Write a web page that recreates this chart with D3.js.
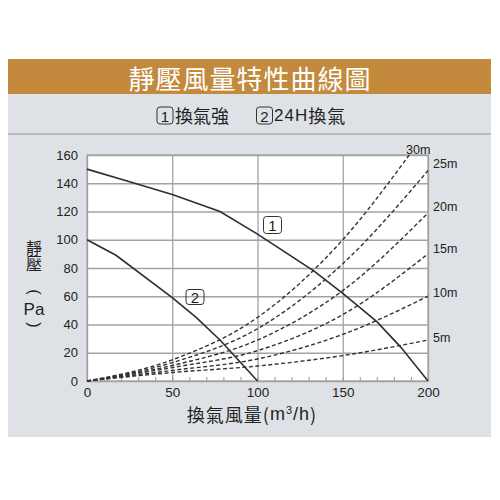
<!DOCTYPE html>
<html>
<head>
<meta charset="utf-8">
<script src="https://cdn.jsdelivr.net/npm/d3@7"></script>
<style>
  body { margin: 0; background: #fff; }
  svg text { font-family: "Liberation Sans", Arial, sans-serif; fill: #222; }
  .cjk { font-family: "Noto Sans CJK TC", "Noto Sans CJK SC", sans-serif; }
</style>
</head>
<body>
<svg id="chart" width="500" height="500"></svg>
<script>
// data
const xTicks = [0, 50, 100, 150, 200];
const yTicks = [0, 20, 40, 60, 80, 100, 120, 140, 160];
const minorX = d3.range(0, 201, 10);

// fan curves (static pressure vs airflow)
const fan1 = [[0, 150], [25, 141], [50, 132], [78, 120], [100, 104], [133, 78], [150, 62], [170, 42], [184, 24], [200, 0]];
const fan2 = [[0, 100], [17, 89], [50, 59], [64, 45], [78, 29], [100, 0]];

// duct resistance curves
const ductNames = ['5m', '10m', '15m', '20m', '25m', '30m'];
const duct5 = [[0, 0], [50, 6], [100, 10.6], [150, 18], [200, 29]];
const duct10 = [[0, 0], [50, 7.5], [100, 15.6], [150, 33], [200, 60]];
const duct15 = [[0, 0], [50, 9.5], [100, 21.5], [150, 47], [200, 90]];
const duct20 = [[0, 0], [50, 11], [100, 29], [150, 64], [200, 119]];
const duct25 = [[0, 0], [50, 13], [100, 37], [150, 83], [200, 149]];
const duct30 = [[0, 0], [50, 15], [100, 45], [150, 100], [189, 160]];
const ducts = [duct5, duct10, duct15, duct20, duct25, duct30];

const svg = d3.select('#chart');

// panel background
svg.append('rect').attr('x', 8).attr('y', 59).attr('width', 483).attr('height', 378).attr('fill', '#dee2e6');
svg.append('rect').attr('x', 8).attr('y', 59).attr('width', 483).attr('height', 35).attr('fill', '#c38a3d');
svg.append('line').attr('x1', 8).attr('x2', 491).attr('y1', 134).attr('y2', 134)
  .attr('stroke', '#8f959b').attr('stroke-width', 1);

svg.append('text').attr('class', 'cjk')
  .attr('x', 250).attr('y', 77).attr('text-anchor', 'middle').attr('dominant-baseline', 'central')
  .style('fill', '#fff').style('font-size', '26px').style('letter-spacing', '1px')
  .text('靜壓風量特性曲線圖');

function boxNum(g, cx, cy, w, h, label, size) {
  g.append('rect').attr('x', cx - w / 2).attr('y', cy - h / 2).attr('width', w).attr('height', h)
    .attr('rx', 3).attr('fill', 'none').attr('stroke', '#333').attr('stroke-width', 1);
  g.append('text').attr('x', cx).attr('y', cy + 0.5).attr('text-anchor', 'middle')
    .attr('dominant-baseline', 'central').style('font-size', size + 'px').text(label);
}

// legend line
const leg = svg.append('g');
boxNum(leg, 165, 115.5, 16, 17, '1', 15);
leg.append('text').attr('class', 'cjk').attr('x', 175).attr('y', 115).attr('dominant-baseline', 'central')
  .style('font-size', '18px').text('換氣強');
boxNum(leg, 264.5, 115.5, 16, 17, '2', 15);
leg.append('text').attr('x', 274).attr('y', 115).attr('dominant-baseline', 'central')
  .style('font-size', '17px').style('letter-spacing', '1px')
  .html('24H<tspan style="font-family:\'Noto Sans CJK TC\';font-size:18px">換氣</tspan>');

// plot
const x = d3.scaleLinear().domain([0, 200]).range([87, 428]);
const y = d3.scaleLinear().domain([0, 160]).range([381, 155]);

svg.append('rect').attr('x', x(0)).attr('y', y(160)).attr('width', x(200) - x(0)).attr('height', y(0) - y(160))
  .attr('fill', '#fff');

svg.append('g').attr('transform', `translate(0,${y(0)})`)
  .call(d3.axisBottom(x).tickValues(xTicks).tickSize(-(y(0) - y(160))).tickFormat(''))
  .call(g => g.select('.domain').remove())
  .call(g => g.selectAll('line').attr('stroke', '#a3a3a3').attr('stroke-width', 1.3));

svg.append('g').attr('transform', `translate(${x(0)},0)`)
  .call(d3.axisLeft(y).tickValues(yTicks).tickSize(-(x(200) - x(0))).tickFormat(''))
  .call(g => g.select('.domain').remove())
  .call(g => g.selectAll('line').attr('stroke', '#a3a3a3').attr('stroke-width', 1.3));

svg.append('g').attr('transform', `translate(0,${y(0)})`)
  .call(d3.axisBottom(x).tickValues(minorX).tickSize(-4).tickFormat(''))
  .call(g => g.select('.domain').remove())
  .call(g => g.selectAll('line').attr('stroke', '#999'));

svg.append('rect').attr('x', x(0)).attr('y', y(160)).attr('width', x(200) - x(0)).attr('height', y(0) - y(160))
  .attr('fill', 'none').attr('stroke', '#a3a3a3').attr('stroke-width', 1.3);

// tick labels
svg.append('g').attr('transform', `translate(${x(0) - 6},0)`)
  .call(d3.axisLeft(y).tickValues(yTicks).tickSize(0))
  .call(g => g.select('.domain').remove())
  .call(g => g.selectAll('text').style('font-size', '13px').style('fill', '#222'));

svg.append('g').attr('transform', `translate(0,${y(0) + 3})`)
  .call(d3.axisBottom(x).tickValues(xTicks).tickSize(0))
  .call(g => g.select('.domain').remove())
  .call(g => g.selectAll('text').style('font-size', '13.5px').style('fill', '#222'));

// duct curves
const line = d3.line().x(d => x(d[0])).y(d => y(d[1])).curve(d3.curveMonotoneX);
svg.append('g').selectAll('path').data(ducts).join('path')
  .attr('d', line).attr('fill', 'none').attr('stroke', '#333')
  .attr('stroke-width', 1.4).attr('stroke-dasharray', '4,2.5');

// labels sit just past each line end, raised more for steeper lines
function endSlope(d) {
  const a = d[d.length - 2], b = d[d.length - 1];
  return (y(a[1]) - y(b[1])) / (x(b[0]) - x(a[0]));
}
svg.append('g').selectAll('text').data(ducts).join('text')
  .attr('x', (d, i) => i === 5 ? x(d[d.length - 1][0]) + 9 : x(200) + 5)
  .attr('y', (d, i) => i === 5 ? y(d[d.length - 1][1]) - 5 : y(d[d.length - 1][1]) - 1 - 5 * endSlope(d))
  .attr('text-anchor', (d, i) => i === 5 ? 'middle' : 'start')
  .attr('dominant-baseline', 'central')
  .style('font-size', '12.5px')
  .text((d, i) => ductNames[i]);

// fan curves
const fanLine = d3.line().x(d => x(d[0])).y(d => y(d[1]));
svg.append('g').selectAll('path').data([fan1, fan2]).join('path')
  .attr('d', fanLine).attr('fill', 'none').attr('stroke', '#2e2e2e').attr('stroke-width', 1.6);

const marks = svg.append('g');
boxNum(marks, 272.5, 225, 18, 17, '1', 15);
boxNum(marks, 195, 297, 18, 15, '2', 15);

// axis titles
const yt = svg.append('g');
yt.append('text').attr('class', 'cjk').attr('x', 34).attr('y', 240)
  .style('writing-mode', 'vertical-rl').style('font-size', '16px').text('靜壓');
yt.append('text').attr('transform', 'translate(34,292) rotate(90)').attr('text-anchor', 'middle')
  .attr('dominant-baseline', 'central').style('font-size', '16px').text('(');
yt.append('text').attr('x', 34).attr('y', 309).attr('text-anchor', 'middle')
  .attr('dominant-baseline', 'central').style('font-size', '17px').text('Pa');
yt.append('text').attr('transform', 'translate(34,325) rotate(90)').attr('text-anchor', 'middle')
  .attr('dominant-baseline', 'central').style('font-size', '16px').text(')');

svg.append('text').attr('x', 252).attr('y', 414).attr('text-anchor', 'middle').attr('dominant-baseline', 'central')
  .style('font-size', '18px').style('letter-spacing', '1px')
  .html('<tspan style="font-family:\'Noto Sans CJK TC\'">換氣風量(</tspan>m<tspan style="font-size:11px" dy="-4">3</tspan><tspan dy="4">/h</tspan><tspan style="font-family:\'Noto Sans CJK TC\'">)</tspan>');
</script>
</body>
</html>
